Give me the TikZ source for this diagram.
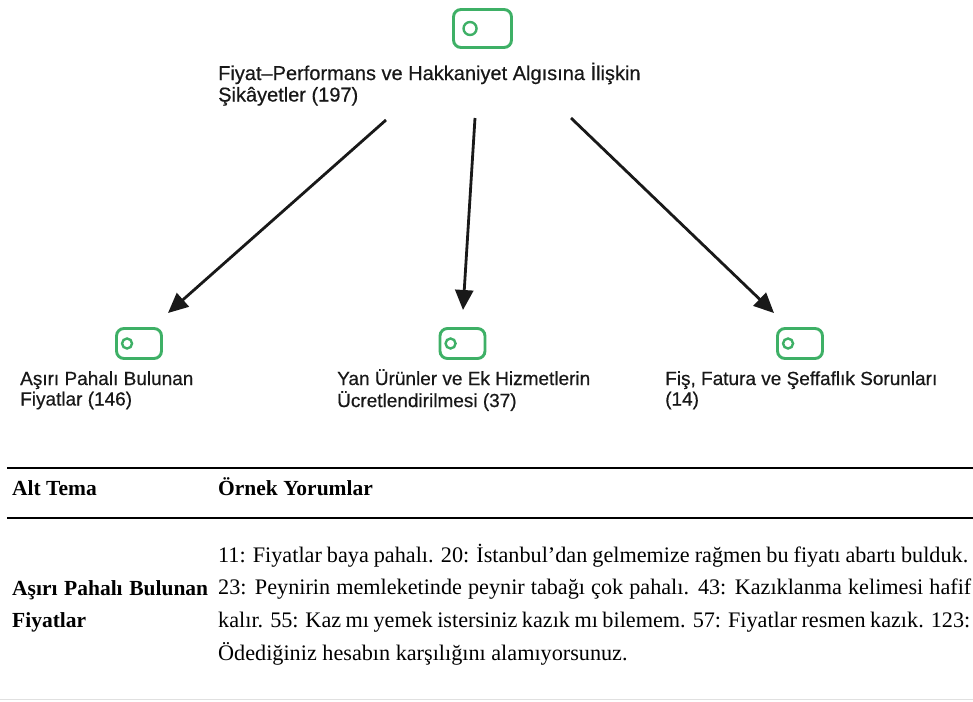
\documentclass[tikz,border=0pt]{standalone}
\usepackage{fontspec}
\setmainfont{Liberation Serif}
\newfontfamily\labelfont[FakeBold=0.5]{Liberation Sans}
\usetikzlibrary{arrows.meta,calc}
\definecolor{tagGreen}{RGB}{62,176,102}
\definecolor{labelInk}{RGB}{24,24,24}
\begin{document}
\begin{tikzpicture}[x=1pt,y=-1pt,
  tagicon/.style={draw=tagGreen, line width=2.9pt, rounded corners=7.5pt, inner sep=0pt, fill=white},
  taghole/.style={draw=tagGreen, line width=2.4pt},
  label/.style={anchor=base west, inner sep=0pt, text=labelInk,
    font=\labelfont\fontsize{19}{20.5}\selectfont},
  rootlabel/.style={label, font=\labelfont\fontsize{20}{21.5}\selectfont},
  link/.style={line width=2.8pt, draw=black!90, -{Triangle[length=20pt,width=18pt]}},
  rule/.style={line width=1.6pt},
  cell/.style={anchor=base west, inner sep=0pt, font=\fontsize{22.2}{32.7}\selectfont},
  headcell/.style={cell, font=\fontsize{21.5}{32.7}\selectfont\bfseries}]
\useasboundingbox (0,0) rectangle (973,701);
\fill[white] (0,0) rectangle (973,701);

% ---- theme tree ----
\node[tagicon, minimum width=58pt, minimum height=38pt] (rootIcon) at (482.5,28.5) {};
\draw[taghole] ($(rootIcon.west)+(18,0)$) circle (6.5);
\node[rootlabel] (root) at (218,80)
  {\begin{tabular}[t]{@{}l@{}}Fiyat–Performans ve Hakkaniyet Algısına İlişkin\\Şikâyetler (197)\end{tabular}};

\node[tagicon, minimum width=45pt, minimum height=30pt] (iconA) at (139,343.5) {};
\draw[taghole] ($(iconA.west)+(12,0)$) circle (5);
\node[label] (labA) at (20,385)
  {\begin{tabular}[t]{@{}l@{}}Aşırı Pahalı Bulunan\\Fiyatlar (146)\end{tabular}};

\node[tagicon, minimum width=45pt, minimum height=30pt] (iconB) at (462.5,343.5) {};
\draw[taghole] ($(iconB.west)+(12,0)$) circle (5);
\node[label] (labB) at (337,385)
  {\begin{tabular}[t]{@{}l@{}}Yan Ürünler ve Ek Hizmetlerin\\Ücretlendirilmesi (37)\end{tabular}};

\node[tagicon, minimum width=45pt, minimum height=30pt] (iconC) at (800,343.5) {};
\draw[taghole] ($(iconC.west)+(12,0)$) circle (5);
\node[label] (labC) at (665,385)
  {\begin{tabular}[t]{@{}l@{}}Fiş, Fatura ve Şeffaflık Sorunları\\(14)\end{tabular}};

\draw[link] ($(root.base west)+(168,40)$) -- ($(iconA.center)+(29,-30.5)$);
\draw[link] ($(root.base west)+(257,38)$) -- ($(iconB.center)+(0.5,-33.5)$);
\draw[link] ($(root.base west)+(353,38)$) -- ($(iconC.center)+(-26,-30.5)$);

% ---- sample comments table ----
\begin{scope}
\clip (0,0) rectangle (973,701);
\draw[rule] (7,468) -- (990,468);
\draw[rule] (7,518) -- (990,518);
\node[headcell] (hdA) at (12,495) {Alt Tema};
\node[headcell] (hdB) at (218,495) {Örnek Yorumlar};
\node[headcell] (subtheme) at (12,595)
  {\begin{tabular}[t]{@{}l@{}}\makebox[196pt][s]{Aşırı Pahalı Bulunan}\\Fiyatlar\end{tabular}};
\node[cell] (quotes) at (218,562)
  {\begin{tabular}[t]{@{}l@{}}%
  \makebox[750pt][s]{11: Fiyatlar baya pahalı. 20: İstanbul'dan gelmemize rağmen bu fiyatı abartı bulduk.}\\
  \makebox[753pt][s]{23: Peynirin memleketinde peynir tabağı çok pahalı. 43: Kazıklanma kelimesi hafif}\\
  \makebox[752pt][s]{kalır. 55: Kaz mı yemek istersiniz kazık mı bilemem. 57: Fiyatlar resmen kazık. 123:}\\
  Ödediğiniz hesabın karşılığını alamıyorsunuz.\end{tabular}};
\draw[black!12, line width=1pt] (0,699) -- (973,699);
\end{scope}
\end{tikzpicture}
\end{document}
